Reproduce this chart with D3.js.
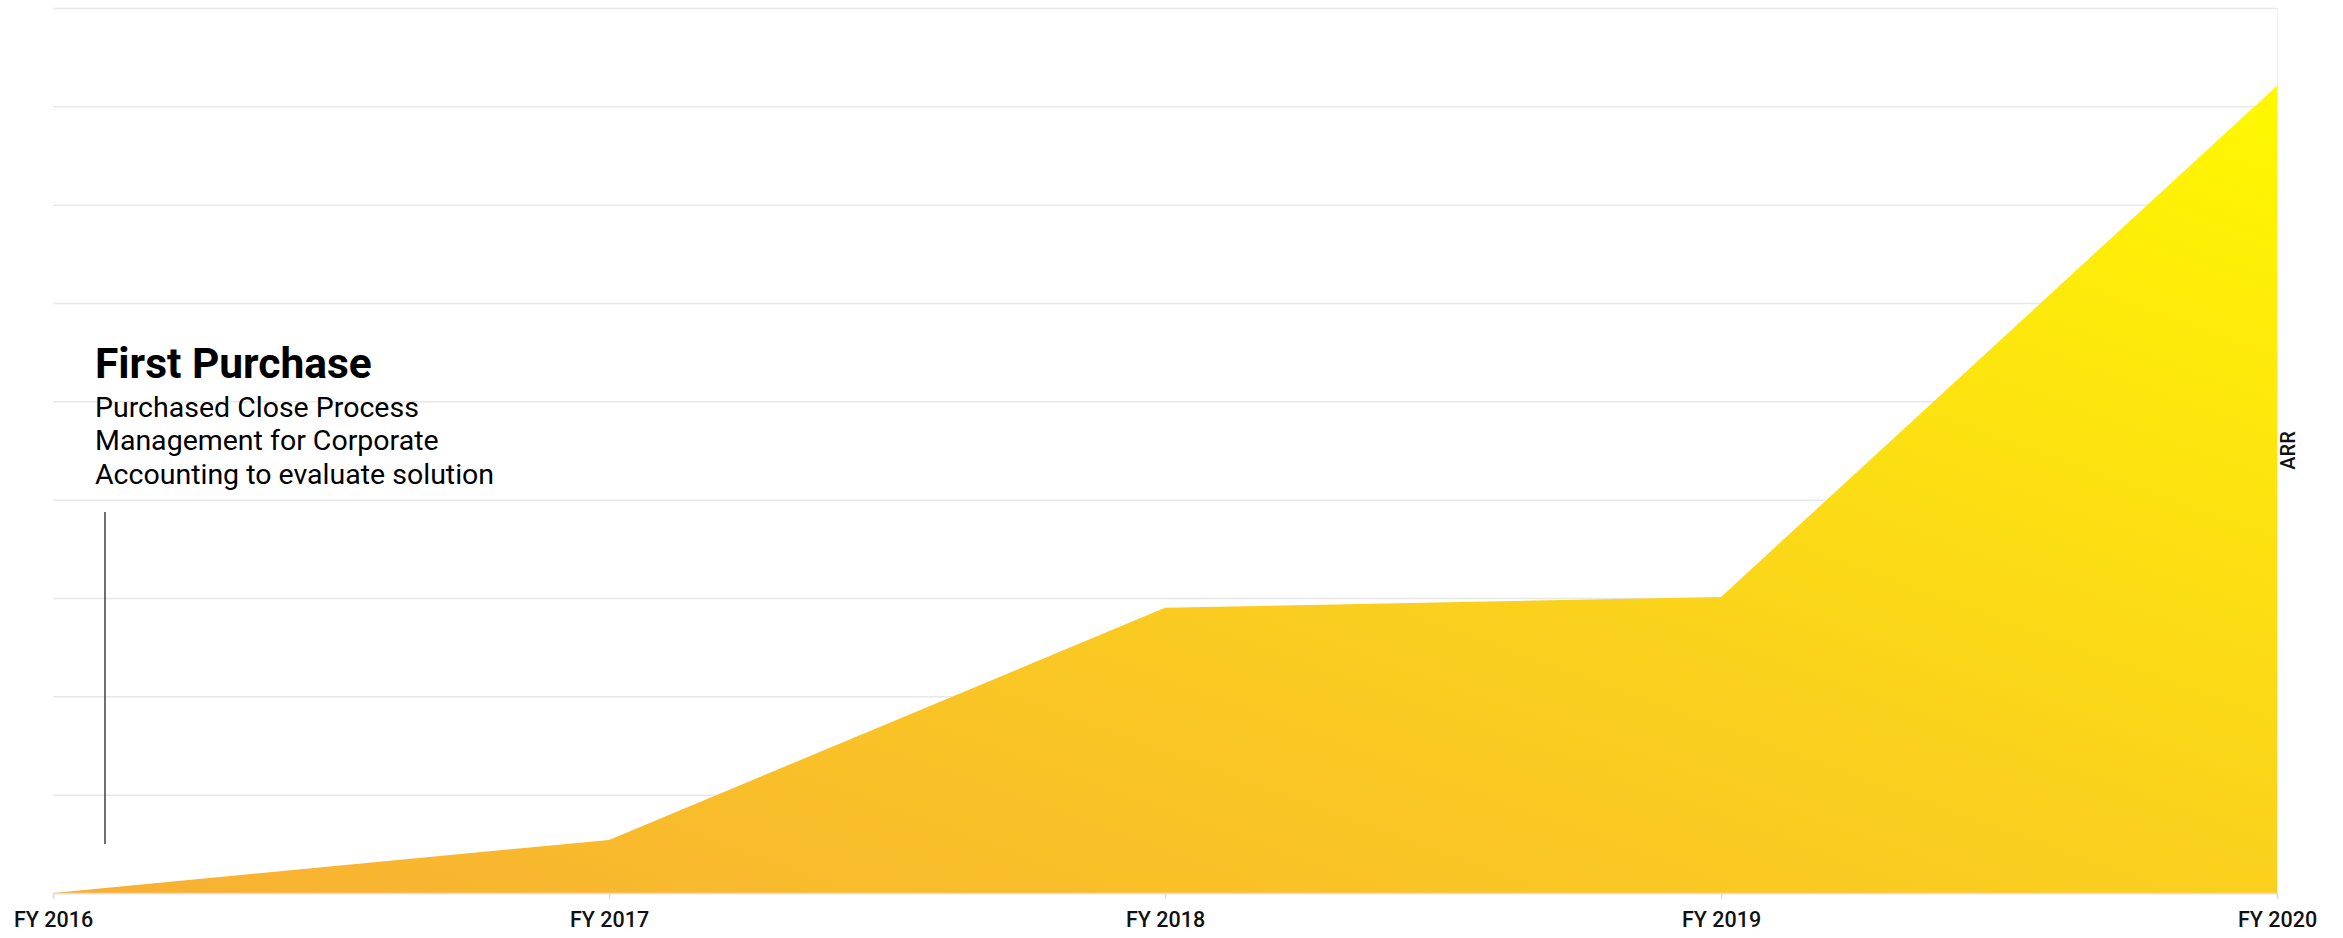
<!DOCTYPE html>
<html>
<head>
<meta charset="utf-8">
<script src="https://cdn.jsdelivr.net/npm/d3@7"></script>
<style>
  html, body { margin: 0; padding: 0; background: #fff; }
  svg { display: block; font-family: Roboto, "Noto Sans", sans-serif; }
</style>
</head>
<body>
<svg id="chart" width="2343" height="938"></svg>
<script>
// Fiscal years on the x axis
const years = ["FY 2016", "FY 2017", "FY 2018", "FY 2019", "FY 2020"];
// Annual recurring revenue (relative units)
const arr = [0, 54, 290, 301, 821];
// Horizontal gridline values
const gridTicks = [0, 100, 200, 300, 400, 500, 600, 700, 800, 900];
// Callout text
const calloutTitle = "First Purchase";
const calloutLines = [
  "Purchased Close Process",
  "Management for Corporate",
  "Accounting to evaluate solution"
];
const yAxisLabel = "ARR";

const svg = d3.select("#chart");
const margin = { left: 53, right: 66, top: 8, bottom: 45 };
const W = 2343, H = 938;

const x = d3.scalePoint()
  .domain(years)
  .range([margin.left, W - margin.right]);

const y = d3.scaleLinear()
  .domain([0, 900])
  .range([H - margin.bottom, margin.top]);

// Gradient fill running from warm orange (bottom-left) to bright yellow (top-right)
const defs = svg.append("defs");
const grad = defs.append("linearGradient")
  .attr("id", "arrFill")
  .attr("x1", "0").attr("y1", "1")
  .attr("x2", "1").attr("y2", "0");
grad.append("stop").attr("offset", "0").attr("stop-color", "#F8B034");
grad.append("stop").attr("offset", "0.5").attr("stop-color", "#FAD01D");
grad.append("stop").attr("offset", "1").attr("stop-color", "#FFF800");

// Gridlines
svg.append("g")
  .selectAll("line")
  .data(gridTicks)
  .join("line")
  .attr("x1", margin.left)
  .attr("x2", W - margin.right)
  .attr("y1", d => y(d) + 0.5)
  .attr("y2", d => y(d) + 0.5)
  .attr("stroke", "#e8e8e8")
  .attr("stroke-width", 1.5);

// Right edge line of the plot
svg.append("line")
  .attr("x1", W - margin.right + 0.5).attr("x2", W - margin.right + 0.5)
  .attr("y1", y(900)).attr("y2", y(0))
  .attr("stroke", "#eeeeee").attr("stroke-width", 1);

// Area
const area = d3.area()
  .x((d, i) => x(years[i]))
  .y0(y(0))
  .y1(d => y(d));

svg.append("path")
  .datum(arr)
  .attr("d", area)
  .attr("fill", "url(#arrFill)");

// X axis
const xAxis = d3.axisBottom(x).tickSize(6).tickPadding(13);
const gx = svg.append("g")
  .attr("transform", `translate(0,${y(0)})`)
  .call(xAxis);
gx.select(".domain").attr("stroke", "#dddddd").attr("stroke-width", 1.5);
gx.selectAll(".tick line").attr("stroke", "#dddddd").attr("stroke-width", 1.5);
gx.selectAll(".tick text")
  .attr("fill", "#111")
  .style("font-family", "Roboto, sans-serif")
  .style("font-size", "21.5px")
  .style("font-weight", "500");

// Y axis title on the right
svg.append("text")
  .attr("transform", `translate(${W - margin.right + 18},${y(450)}) rotate(-90)`)
  .attr("text-anchor", "middle")
  .attr("fill", "#111")
  .style("font-size", "20px")
  .style("font-weight", "500")
  .text(yAxisLabel);

// Callout
const callX = 95;
svg.append("text")
  .attr("x", callX)
  .attr("y", 378)
  .attr("fill", "#000")
  .style("font-size", "42.5px")
  .style("font-weight", "700")
  .text(calloutTitle);

svg.append("g")
  .selectAll("text")
  .data(calloutLines)
  .join("text")
  .attr("x", callX)
  .attr("y", (d, i) => 416.5 + i * 33.8)
  .attr("fill", "#000")
  .style("font-size", "28.5px")
  .style("font-weight", "400")
  .text(d => d);

// Leader line from the callout toward FY 2016
svg.append("line")
  .attr("x1", 105).attr("x2", 105)
  .attr("y1", 512).attr("y2", 844)
  .attr("stroke", "#222")
  .attr("stroke-width", 1.3);
</script>
</body>
</html>
